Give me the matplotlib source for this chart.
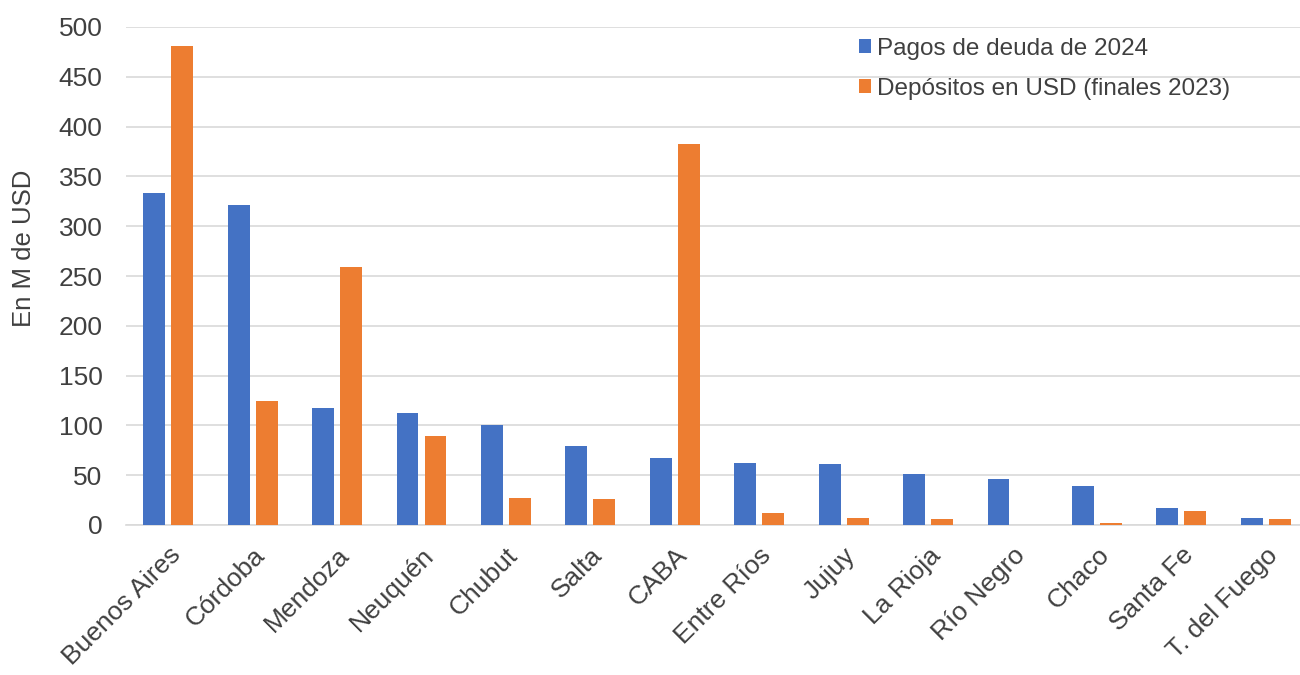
import matplotlib
matplotlib.use("Agg")
import matplotlib.pyplot as plt
import numpy as np

provincias = ["Buenos Aires", "Córdoba", "Mendoza", "Neuquén", "Chubut", "Salta", "CABA",
              "Entre Ríos", "Jujuy", "La Rioja", "Río Negro", "Chaco", "Santa Fe", "T. del Fuego"]
pagos_deuda_2024 = [333, 321, 117, 112, 100, 79, 67, 62, 61, 51, 46, 39, 17, 7]
depositos_usd_2023 = [481, 124, 259, 89, 27, 26, 383, 12, 7, 6, 0, 2, 14, 6]
yticks = [0, 50, 100, 150, 200, 250, 300, 350, 400, 450, 500]

plt.rcParams['font.family'] = ['Liberation Sans', 'DejaVu Sans']

W, H = 1300, 675
fig = plt.figure(figsize=(13, 6.75), dpi=100)
ax = fig.add_axes([126 / W, 1 - 525 / H, 1182 / W, 498 / H])

x = np.arange(len(provincias))
w = 0.26
off = 0.166
ax.bar(x - off, pagos_deuda_2024, width=w, color="#4472C4", label="Pagos de deuda de 2024", zorder=3)
ax.bar(x + off, depositos_usd_2023, width=w, color="#ED7D31", label="Depósitos en USD (finales 2023)", zorder=3)

ax.set_xlim(-0.5, len(provincias) - 0.5)
ax.set_ylim(0, 500)
ax.set_yticks(yticks)
ax.set_yticklabels([str(v) for v in yticks], fontsize=19, color="#404040")
ax.yaxis.grid(True, color="#D9D9D9", linewidth=1.2, zorder=0)
ax.set_axisbelow(True)
ax.tick_params(axis='both', length=0)
ax.tick_params(axis='y', pad=17)
ax.set_xticks(x)
ax.set_xticklabels(provincias, rotation=45, ha='right', rotation_mode='anchor', fontsize=19, color="#404040")
ax.tick_params(axis='x', pad=13)
for s in ["top", "right", "left"]:
    ax.spines[s].set_visible(False)
ax.spines["bottom"].set_color("#D9D9D9")
ax.spines["bottom"].set_linewidth(1.2)

fig.text(24 / W, 1 - 248 / H, "En M de USD", rotation=90, fontsize=18.5, color="#404040",
         ha='center', va='center')

leg = fig.legend(loc="upper left", bbox_to_anchor=(854 / W, 1 - 33 / H), frameon=False, fontsize=17.5,
                 handlelength=0.5, handleheight=0.5, handletextpad=0.25, labelspacing=0.73,
                 borderaxespad=0, borderpad=0.2, labelcolor="#404040")

fig.savefig("out.png", dpi=100)
